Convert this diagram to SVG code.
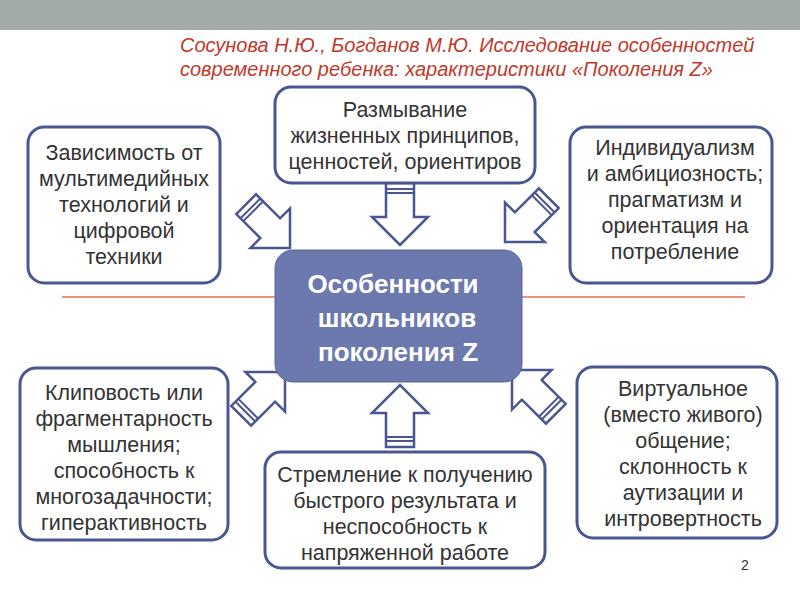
<svg xmlns="http://www.w3.org/2000/svg" width="800" height="600" viewBox="0 0 800 600">
<defs>
<style>
.box{fill:#fff;stroke:#4a5690;stroke-width:3}
.t{font-family:"Liberation Sans",Arial,sans-serif;font-size:21.5px;fill:#333;text-anchor:middle}
.arr{fill:#fff;stroke:#4a5690;stroke-width:2.5;stroke-linejoin:miter}
.st{stroke:#4a5690;stroke-width:2}
</style>
<g id="ba">
<polygon class="arr" points="-14,-62 14,-62 14,-28 28,-28 0,0 -28,-28 -14,-28"/>
<line class="st" x1="-14" y1="-56" x2="14" y2="-56"/>
<line class="st" x1="-14" y1="-52" x2="14" y2="-52"/>
</g>
</defs>
<rect x="0" y="0" width="800" height="30" fill="#a3aba7"/>
<text x="180" y="52" font-family="Liberation Sans,Arial,sans-serif" font-size="20" font-style="italic" fill="#c0392b">Сосунова Н.Ю., Богданов М.Ю. Исследование особенностей</text>
<text x="180" y="76" font-family="Liberation Sans,Arial,sans-serif" font-size="20" font-style="italic" fill="#c0392b">современного ребенка: характеристики «Поколения Z»</text>
<line x1="62" y1="297" x2="745" y2="297" stroke="#e0704f" stroke-width="1.5"/>
<g id="connectors">
<use href="#ba" transform="translate(400,245)"/>
<use href="#ba" transform="translate(290,248) rotate(-45)"/>
<use href="#ba" transform="translate(505,242) rotate(45)"/>
<use href="#ba" transform="translate(400,385) rotate(180)"/>
<use href="#ba" transform="translate(285,372) rotate(-135)"/>
<use href="#ba" transform="translate(512,370) rotate(135)"/>
</g>
<g id="n-top"><rect class="box" x="275" y="87" width="260" height="96" rx="16"/>
<text class="t" x="405" y="117">Размывание</text><text class="t" x="405" y="143">жизненных принципов,</text><text class="t" x="405" y="169">ценностей, ориентиров</text></g>
<g id="n-lt"><rect class="box" x="28" y="127" width="192" height="156" rx="16"/>
<text class="t" x="124" y="160">Зависимость от</text><text class="t" x="124" y="186">мультимедийных</text><text class="t" x="124" y="212">технологий и</text><text class="t" x="124" y="238">цифровой</text><text class="t" x="124" y="264">техники</text></g>
<g id="n-rt"><rect class="box" x="570" y="127" width="202" height="156" rx="16"/>
<text class="t" x="675" y="155">Индивидуализм</text><text class="t" x="675" y="181">и амбициозность;</text><text class="t" x="675" y="207">прагматизм и</text><text class="t" x="675" y="233">ориентация на</text><text class="t" x="675" y="259">потребление</text></g>
<g id="n-center"><rect x="275" y="250" width="247" height="132" rx="18" fill="#6c79ae" stroke="#5a6699" stroke-width="1"/>
<g font-family="Liberation Sans,Arial,sans-serif" font-size="26" font-weight="bold" fill="#fff" text-anchor="middle">
<text x="393" y="293">Особенности</text><text x="397" y="327">школьников</text><text x="398" y="361">поколения Z</text></g></g>
<g id="n-lb"><rect class="box" x="20" y="368" width="208" height="172" rx="16"/>
<text class="t" x="124" y="400">Клиповость или</text><text class="t" x="124" y="426">фрагментарность</text><text class="t" x="124" y="452">мышления;</text><text class="t" x="124" y="478">способность к</text><text class="t" x="124" y="504">многозадачности;</text><text class="t" x="124" y="530">гиперактивность</text></g>
<g id="n-bottom"><rect class="box" x="265" y="452" width="280" height="116" rx="16"/>
<text class="t" x="405" y="482">Стремление к получению</text><text class="t" x="405" y="508">быстрого результата и</text><text class="t" x="405" y="534">неспособность к</text><text class="t" x="405" y="560">напряженной работе</text></g>
<g id="n-rb"><rect class="box" x="577" y="367" width="200" height="171" rx="16"/>
<text class="t" x="683" y="396">Виртуальное</text><text class="t" x="683" y="422">(вместо живого)</text><text class="t" x="683" y="448">общение;</text><text class="t" x="683" y="474">склонность к</text><text class="t" x="683" y="500">аутизации и</text><text class="t" x="683" y="526">интровертность</text></g>
<text x="745" y="570" font-family="Liberation Sans,Arial,sans-serif" font-size="14" fill="#333" text-anchor="middle">2</text>
</svg>
